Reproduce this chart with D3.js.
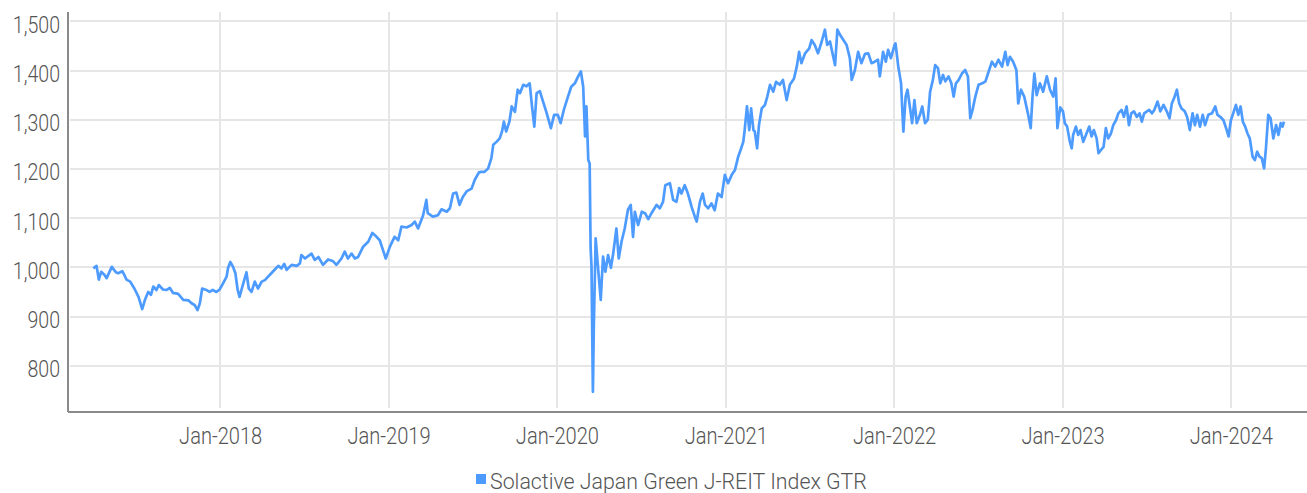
<!DOCTYPE html>
<html lang="en">
	<head>
		<meta charset="utf-8">
		<title>Solactive Japan Green J-REIT Index GTR</title>
		<script src="https://cdn.jsdelivr.net/npm/d3@7"></script>
		<style type="text/css">
		body { margin: 0; background: #fff; }
		.grid line {
			stroke: #e6e6e6;
			stroke-width: 2;
			shape-rendering: crispEdges;
		}
		.axis path {
			stroke: #8a8a8a;
			stroke-width: 2;
			shape-rendering: crispEdges;
		}
		.axis text, .legend text {
			font-family: "Roboto", "Noto Sans", sans-serif;
			font-weight: 300;
			fill: #555;
		}
		.line {
			fill: none;
			stroke: #4d9bff;
			stroke-width: 2.7;
			stroke-linejoin: round;
		}
		</style>
	</head>
	<body>
		<script type="text/javascript">
		// series (index level, roughly weekly)
		var dates = [
			"2017-04-01","2017-04-08","2017-04-13","2017-04-18","2017-04-25","2017-04-30","2017-05-11","2017-05-20","2017-05-25","2017-06-03",
			"2017-06-07","2017-06-12","2017-06-20","2017-06-29","2017-07-08","2017-07-16","2017-07-22","2017-07-29","2017-08-04","2017-08-09",
			"2017-08-16","2017-08-21","2017-08-30","2017-09-07","2017-09-14","2017-09-21","2017-10-02","2017-10-13","2017-10-24","2017-10-31",
			"2017-11-07","2017-11-13","2017-11-18","2017-11-23","2017-12-02","2017-12-09","2017-12-16","2017-12-24","2017-12-31",
			"2018-01-07","2018-01-15","2018-01-18","2018-01-23","2018-01-29","2018-02-03","2018-02-08","2018-02-12","2018-02-20","2018-02-27",
			"2018-03-04","2018-03-10","2018-03-17","2018-03-24","2018-04-01","2018-04-08","2018-04-15","2018-04-22","2018-04-29","2018-05-07",
			"2018-05-14","2018-05-20","2018-05-25","2018-06-05","2018-06-16","2018-06-23","2018-06-26","2018-07-04","2018-07-18","2018-07-25",
			"2018-08-02","2018-08-12","2018-08-23","2018-09-02","2018-09-10","2018-09-21","2018-09-28","2018-10-05","2018-10-13","2018-10-20",
			"2018-10-27","2018-11-07","2018-11-18","2018-11-27","2018-12-06","2018-12-13","2018-12-20","2018-12-26",
			"2019-01-04","2019-01-14","2019-01-22","2019-01-29","2019-02-09","2019-02-20","2019-02-27","2019-03-06","2019-03-17","2019-03-24",
			"2019-03-27","2019-04-07","2019-04-18","2019-04-26","2019-05-07","2019-05-14","2019-05-21","2019-05-28","2019-06-04","2019-06-11",
			"2019-06-20","2019-06-30","2019-07-07","2019-07-16","2019-07-21","2019-07-28","2019-08-05","2019-08-12","2019-08-16","2019-08-23",
			"2019-08-30","2019-09-04","2019-09-08","2019-09-13","2019-09-20","2019-09-25","2019-10-02","2019-10-08","2019-10-13","2019-10-20",
			"2019-10-27","2019-11-03","2019-11-08","2019-11-13","2019-11-18","2019-11-25","2019-12-02","2019-12-09","2019-12-19","2019-12-26",
			"2020-01-03","2020-01-09","2020-01-16","2020-01-24","2020-02-01","2020-02-09","2020-02-16","2020-02-22","2020-02-27","2020-03-02",
			"2020-03-05","2020-03-09","2020-03-12","2020-03-14","2020-03-16","2020-03-19","2020-03-21","2020-03-25","2020-03-30","2020-04-05",
			"2020-04-10","2020-04-15","2020-04-21","2020-04-27","2020-05-02","2020-05-09","2020-05-14","2020-05-20","2020-05-27","2020-06-03",
			"2020-06-09","2020-06-14","2020-06-18","2020-06-25","2020-07-03","2020-07-10","2020-07-17","2020-07-24","2020-08-04","2020-08-11",
			"2020-08-18","2020-08-23","2020-09-02","2020-09-09","2020-09-16","2020-09-22","2020-09-27","2020-10-04","2020-10-11","2020-10-19",
			"2020-10-26","2020-10-30","2020-11-06","2020-11-12","2020-11-17","2020-11-24","2020-12-01","2020-12-08","2020-12-15","2020-12-23",
			"2020-12-30",
			"2021-01-06","2021-01-14","2021-01-21","2021-01-28","2021-02-02","2021-02-08","2021-02-11","2021-02-16","2021-02-21","2021-02-25",
			"2021-03-02","2021-03-05","2021-03-10","2021-03-14","2021-03-20","2021-03-27","2021-04-01","2021-04-07","2021-04-14","2021-04-20",
			"2021-04-28","2021-05-05","2021-05-13","2021-05-20","2021-05-29","2021-06-04","2021-06-09","2021-06-14","2021-06-22","2021-07-01",
			"2021-07-06","2021-07-13","2021-07-20","2021-07-28","2021-08-04","2021-08-09","2021-08-15","2021-08-22","2021-08-26","2021-08-31",
			"2021-09-06","2021-09-13","2021-09-20","2021-09-27","2021-10-01","2021-10-08","2021-10-15","2021-10-22","2021-10-30","2021-11-06",
			"2021-11-13","2021-11-20","2021-11-27","2021-12-01","2021-12-08","2021-12-14","2021-12-19","2021-12-25",
			"2022-01-02","2022-01-04","2022-01-10","2022-01-16","2022-01-21","2022-01-26","2022-01-30","2022-02-04","2022-02-09","2022-02-14",
			"2022-02-19","2022-02-26","2022-03-03","2022-03-09","2022-03-15","2022-03-20","2022-03-26","2022-03-31","2022-04-06","2022-04-11",
			"2022-04-17","2022-04-22","2022-04-29","2022-05-05","2022-05-10","2022-05-15","2022-05-21","2022-05-28","2022-06-04","2022-06-10",
			"2022-06-15","2022-06-20","2022-06-26","2022-07-03","2022-07-11","2022-07-18","2022-07-25","2022-08-01","2022-08-08","2022-08-15",
			"2022-08-23","2022-08-30","2022-09-04","2022-09-09","2022-09-16","2022-09-23","2022-09-27","2022-10-03","2022-10-10","2022-10-18",
			"2022-10-24","2022-10-28","2022-11-01","2022-11-06","2022-11-13","2022-11-20","2022-11-28","2022-12-05","2022-12-12","2022-12-17",
			"2022-12-21","2022-12-27",
			"2023-01-02","2023-01-06","2023-01-11","2023-01-17","2023-01-21","2023-01-24","2023-01-30","2023-02-04","2023-02-09","2023-02-15",
			"2023-02-22","2023-02-28","2023-03-05","2023-03-10","2023-03-16","2023-03-20","2023-03-25","2023-03-31","2023-04-05","2023-04-10",
			"2023-04-16","2023-04-21","2023-04-27","2023-05-02","2023-05-09","2023-05-14","2023-05-20","2023-05-25","2023-05-30","2023-06-05",
			"2023-06-11","2023-06-17","2023-06-22","2023-06-27","2023-07-03","2023-07-08","2023-07-14","2023-07-19","2023-07-26","2023-08-01",
			"2023-08-08","2023-08-15","2023-08-21","2023-08-26","2023-08-31","2023-09-06","2023-09-11","2023-09-16","2023-09-23","2023-09-28",
			"2023-10-04","2023-10-10","2023-10-15","2023-10-20","2023-10-26","2023-11-01","2023-11-06","2023-11-13","2023-11-21","2023-11-28",
			"2023-12-03","2023-12-09","2023-12-16","2023-12-23","2023-12-27",
			"2024-01-01","2024-01-06","2024-01-12","2024-01-17","2024-01-22","2024-01-27","2024-02-01","2024-02-06","2024-02-11","2024-02-17",
			"2024-02-22","2024-02-27","2024-03-03","2024-03-08","2024-03-13","2024-03-17","2024-03-22","2024-03-27","2024-04-02","2024-04-08",
			"2024-04-13","2024-04-18","2024-04-22","2024-04-25"
		];
		var values = [
			998,1003,975,991,985,978,1001,990,988,992,
			985,975,971,957,940,915,934,950,944,961,
			954,964,955,954,958,948,946,934,933,927,
			923,913,927,957,954,950,954,950,955,
			967,981,998,1011,1001,988,954,940,967,990,
			957,950,971,957,971,974,981,988,995,1003,
			998,1007,995,1005,1003,1008,1025,1018,1028,1015,
			1021,1005,1016,1013,1005,1018,1032,1018,1028,1018,
			1021,1042,1052,1070,1062,1055,1035,1018,
			1042,1062,1055,1083,1081,1086,1093,1079,1106,1137,
			1110,1103,1106,1118,1113,1120,1150,1152,1127,1143,
			1155,1160,1178,1193,1194,1194,1201,1222,1249,1255,
			1262,1276,1296,1276,1296,1327,1316,1361,1354,1371,
			1368,1374,1327,1286,1354,1358,1337,1316,1283,1310,
			1310,1293,1320,1344,1367,1374,1388,1398,1367,1266,
			1327,1218,1211,1042,1001,747,879,1059,1001,934,
			1022,991,1025,999,1028,1079,1018,1052,1079,1117,
			1127,1062,1113,1086,1113,1110,1098,1110,1127,1120,
			1133,1167,1171,1137,1133,1161,1150,1167,1150,1123,
			1103,1093,1133,1150,1127,1120,1130,1116,1150,1143,
			1188,
			1171,1188,1198,1225,1238,1255,1279,1327,1279,1323,
			1279,1276,1242,1289,1323,1330,1347,1371,1357,1377,
			1371,1381,1340,1371,1384,1408,1438,1415,1435,1445,
			1462,1452,1435,1459,1483,1452,1459,1428,1411,1483,
			1472,1462,1452,1425,1381,1401,1438,1415,1434,1435,
			1415,1418,1422,1388,1438,1418,1442,1425,
			1452,1455,1408,1374,1276,1347,1361,1327,1293,1340,
			1293,1310,1327,1293,1300,1357,1381,1411,1405,1374,
			1391,1378,1388,1374,1347,1374,1381,1394,1401,1388,
			1303,1320,1347,1371,1374,1378,1398,1418,1408,1422,
			1408,1438,1411,1428,1418,1401,1333,1361,1347,1313,
			1283,1347,1394,1350,1374,1357,1388,1361,1347,1384,
			1283,1325,
			1317,1293,1286,1255,1242,1269,1286,1269,1279,1255,
			1272,1286,1266,1279,1262,1232,1238,1245,1283,1262,
			1272,1289,1299,1313,1320,1306,1327,1289,1313,1317,
			1306,1313,1296,1313,1317,1320,1313,1320,1337,1317,
			1330,1317,1303,1333,1344,1361,1333,1323,1317,1306,
			1279,1313,1289,1310,1286,1310,1289,1310,1313,1327,
			1310,1306,1299,1279,1266,
			1299,1313,1330,1310,1327,1296,1286,1272,1262,1225,
			1218,1235,1225,1222,1201,1242,1310,1303,1262,1289,
			1269,1293,1286,1296
		];
		var yTicks = [800, 900, 1000, 1100, 1200, 1300, 1400, 1500];
		var xTickDates = ["2018-01-01","2019-01-01","2020-01-01","2021-01-01","2022-01-01","2023-01-01","2024-01-01"];
		var xDomain = ["2017-02-03", "2024-06-14"];
		var yDomain = [708, 1521];
		var seriesName = "Solactive Japan Green J-REIT Index GTR";

		var width = 1307, height = 493;
		var plot = {left: 67, right: 1307, top: 11, bottom: 411};

		var parse = d3.timeParse("%Y-%m-%d");
		var data = dates.map(function(d, i){ return {date: parse(d), value: values[i]}; });

		var x = d3.scaleTime()
				  .domain(xDomain.map(parse))
				  .range([plot.left, plot.right]);
		var y = d3.scaleLinear()
				  .domain(yDomain)
				  .range([plot.bottom, plot.top]);

		var svg = d3.select("body").append("svg")
					.attr("width", width)
					.attr("height", height);

		// narrow the text horizontally around its own x (the original font is a condensed face)
		function squeeze(sel, sx){
			sel.each(function(){
				var t = d3.select(this);
				var x0 = +t.attr("x") || 0;
				t.attr("transform", "translate(" + x0 + ",0) scale(" + sx + ",1) translate(" + (-x0) + ",0)");
			});
		}

		// horizontal gridlines
		svg.append("g")
			.attr("class", "grid")
			.selectAll("line")
			.data(yTicks)
			.enter().append("line")
			.attr("x1", plot.left + 3)
			.attr("x2", plot.right)
			.attr("y1", function(d){ return Math.round(y(d)); })
			.attr("y2", function(d){ return Math.round(y(d)); });

		// vertical gridlines (January each year)
		svg.append("g")
			.attr("class", "grid")
			.selectAll("line")
			.data(xTickDates.map(parse))
			.enter().append("line")
			.attr("x1", function(d){ return Math.round(x(d)); })
			.attr("x2", function(d){ return Math.round(x(d)); })
			.attr("y1", plot.top + 1)
			.attr("y2", plot.bottom - 3);

		// y axis
		var yAxis = svg.append("g")
			.attr("class", "axis")
			.attr("transform", "translate(" + plot.left + ",0)")
			.call(d3.axisLeft(y).tickValues(yTicks).tickSize(0).tickPadding(7).tickFormat(d3.format(",")));
		yAxis.selectAll("text")
			.attr("dy", "0.45em")
			.style("font-size", "24.5px")
			.call(squeeze, 0.8);

		// x axis
		var xAxis = svg.append("g")
			.attr("class", "axis")
			.attr("transform", "translate(0," + plot.bottom + ")")
			.call(d3.axisBottom(x).tickValues(xTickDates.map(parse)).tickSize(0).tickPadding(16).tickFormat(d3.timeFormat("%b-%Y")));
		xAxis.selectAll("text")
			.style("font-size", "24.5px")
			.call(squeeze, 0.82);

		// the series
		var line = d3.line()
			.x(function(d){ return x(d.date); })
			.y(function(d){ return y(d.value); });

		svg.append("path")
			.datum(data)
			.attr("class", "line")
			.attr("d", line);

		// legend
		var legend = svg.append("g").attr("class", "legend");
		legend.append("rect")
			.attr("x", 476)
			.attr("y", 474)
			.attr("width", 10)
			.attr("height", 10)
			.style("fill", "#4d9bff");
		legend.append("text")
			.attr("x", 490)
			.attr("y", 489)
			.style("font-size", "22px")
			.text(seriesName)
			.call(squeeze, 0.97);
		</script>
	</body>
</html>
